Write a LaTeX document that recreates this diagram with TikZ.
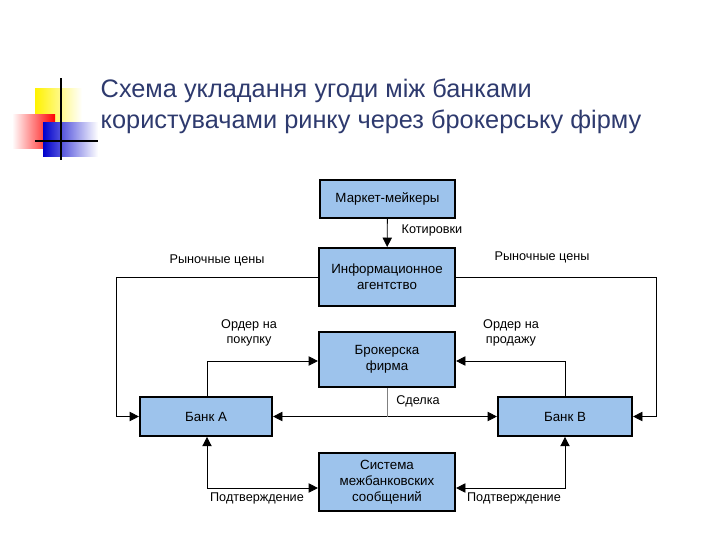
\documentclass[tikz,border=0pt]{standalone}
\usepackage{fontspec}
\setmainfont{Liberation Sans}
\usetikzlibrary{arrows.meta}
\definecolor{boxblue}{HTML}{9DC3EC}
\definecolor{titleblue}{HTML}{2E3A6E}
\tikzset{
  box/.style={draw=black, line width=1.6pt, fill=boxblue, align=center, font=\fontsize{10}{12}\selectfont, inner sep=0pt},
  conn/.style={line width=0.6pt, -{Triangle[length=7pt,width=7pt]}},
  lbl/.style={font=\fontsize{9.5}{11.5}\selectfont, align=center},
}
\begin{document}
\begin{tikzpicture}[x=0.75pt,y=-0.75pt]
\useasboundingbox (0,0) rectangle (720,540);
% decoration
\shade[left color=yellow!90!orange, right color=white] (35,88) rectangle (82,128);
\shade[left color=white, right color=red] (12,114) rectangle (55,148);
\shade[left color=blue!80!black, right color=white] (43,122) rectangle (98,156);
\draw[line width=1.4pt] (61,78) -- (61,160);
\draw[line width=1.4pt] (35,141) -- (98,141);
\node[anchor=west, text=titleblue, font=\fontsize{19}{23}\selectfont, align=left] (title) at (96,106) {Схема укладання угоди між банками\\користувачами ринку через брокерську фірму};
% boxes
\node[box, minimum width=101pt, minimum height=28.5pt] (mm) at (387.5,199) {Маркет-мейкеры};
\node[box, minimum width=102pt, minimum height=43.5pt] (ia) at (387,277) {Информационное\\агентство};
\node[box, minimum width=102pt, minimum height=41pt] (bf) at (387,359.5) {Брокерска\\фирма};
\node[box, minimum width=99pt, minimum height=29pt] (ba) at (206,416.5) {Банк А};
\node[box, minimum width=100.5pt, minimum height=29pt] (bb) at (565,416.5) {Банк В};
\node[box, minimum width=102pt, minimum height=44pt] (sm) at (387,482) {Система\\межбанковских\\сообщений};
% connectors
\draw[conn] (mm) -- (ia);
\node[lbl, anchor=west] (kot) at (397,230) {Котировки};
\coordinate (l1) at (116,277); \coordinate (l2) at (116,416.5);
\draw[conn] (ia.west) -- (l1) -- (l2) -- (ba.west);
\coordinate (r1) at (656,277); \coordinate (r2) at (656,416.5);
\draw[conn] (ia.east) -- (r1) -- (r2) -- (bb.east);
\node[lbl] (rc1) at (217,260) {Рыночные цены};
\node[lbl] (rc2) at (542,257) {Рыночные цены};
\coordinate (a1) at (207,361);
\draw[conn] (ba.north -| a1) -- (a1) -- (bf.west |- a1);
\coordinate (b1) at (565,361);
\draw[conn] (bb.north -| b1) -- (b1) -- (bf.east |- b1);
\node[lbl] (ob) at (249,333) {Ордер на\\покупку};
\node[lbl] (os) at (511,333) {Ордер на\\продажу};
\draw[conn, {Triangle[length=7pt,width=7pt]}-{Triangle[length=7pt,width=7pt]}] (ba.east) -- (bb.west);
\coordinate (d1) at (387,416.5);
\draw[line width=0.4pt, gray] (bf.south) -- (d1);
\node[lbl] (sd) at (418,401) {Сделка};
\coordinate (c1) at (207,488);
\draw[conn, {Triangle[length=7pt,width=7pt]}-{Triangle[length=7pt,width=7pt]}] (ba.south -| c1) -- (c1) -- (sm.west |- c1);
\coordinate (c2) at (565,488);
\draw[conn, {Triangle[length=7pt,width=7pt]}-{Triangle[length=7pt,width=7pt]}] (bb.south -| c2) -- (c2) -- (sm.east |- c2);
\node[lbl] (p1) at (257,498) {Подтверждение};
\node[lbl] (p2) at (514,498) {Подтверждение};
\end{tikzpicture}
\end{document}
